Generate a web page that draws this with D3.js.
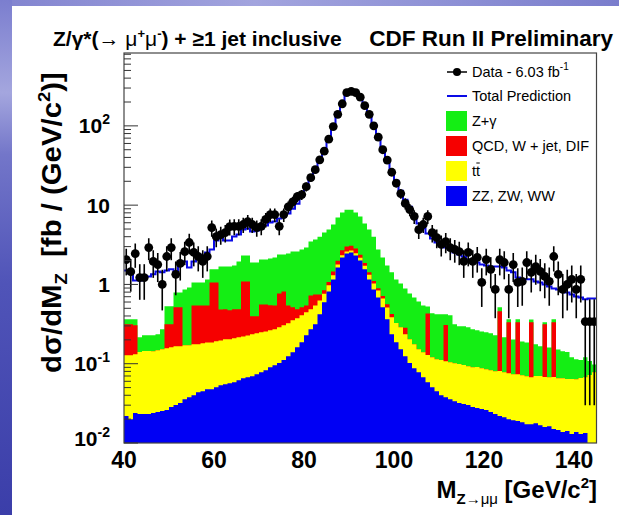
<!DOCTYPE html>
<html><head><meta charset="utf-8">
<script src="https://cdn.jsdelivr.net/npm/d3@7"></script>
<style>body{margin:0;background:#fff}svg{display:block}text{font-family:"Liberation Sans",Arial,Helvetica,sans-serif}</style>
</head><body>
<svg id="chart" width="619" height="515"></svg>
<script>
// ---- data (1 GeV bins from 40 to 145 GeV/c^2) ----
const binLowEdges = d3.range(40, 145, 1);
const xTicks = [40, 60, 80, 100, 120, 140];
const yTicks = [0.01, 0.1, 1, 10, 100];
const yTickLabels = [["10","-2"],["10","-1"],["1",""],["10",""],["10","2"]];

const dataValues = [2.06,1.45,2.45,1.22,1.22,2.92,1.95,1.78,1.00,2.25,
 2.92,1.34,1.84,2.60,3.38,2.53,2.25,1.95,2.25,5.21,
 4.01,4.25,4.50,5.37,5.40,5.40,5.70,6.20,5.70,5.20,
 5.40,6.60,7.60,7.60,5.40,7.60,9.50,11.0,12.8,13.6,
 17.1,22.2,28.0,37.3,48,68,98,140,190,262,
 272,262,230,180,140,100,72,50,37,26,
 19,14,10.5,8.8,7.2,4.9,5.7,7.2,4.5,3.9,
 3.2,3.47,2.92,2.76,2.60,1.95,2.53,1.95,2.19,1.06,
 2.06,1.55,0.865,2.06,1.89,0.865,1.78,1.06,1.09,1.89,
 1.42,1.68,1.46,1.26,1.09,2.25,1.34,0.865,1.00,1.16,
 0.865,1.16,0.34,0.34,0.34];
const dataErrors = [0.76,0.64,0.83,0.58,0.58,0.90,0.74,0.71,0.53,0.79,
 0.90,0.61,0.72,0.85,0.97,0.84,0.79,0.74,0.79,1.21,
 1.06,1.09,1.12,1.23,1.23,1.23,1.26,1.32,1.26,1.21,
 1.23,1.36,1.46,1.46,1.23,1.46,1.63,1.75,1.89,1.95,
 2.19,2.49,2.80,3.23,3.67,4.36,5.24,6.26,7.29,8.57,
 8.73,8.57,8.02,7.10,6.26,5.29,4.49,3.74,3.22,2.70,
 2.31,1.98,1.71,1.57,1.42,1.17,1.26,1.42,1.12,1.04,
 0.95,0.99,0.90,0.88,0.85,0.74,0.84,0.74,0.78,0.54,
 0.76,0.66,0.49,0.76,0.73,0.49,0.71,0.54,0.55,0.73,
 0.63,0.69,0.64,0.59,0.55,0.79,0.61,0.49,0.53,0.57,
 0.49,0.57,0.31,0.31,0.31];
const totalPrediction = [1.50,1.37,1.12,1.12,1.19,1.26,1.34,1.46,1.42,1.50,
 1.55,1.46,1.95,1.95,1.64,1.95,2.38,2.32,2.53,2.76,
 3.58,3.90,3.58,3.58,4.01,4.25,4.92,5.06,4.64,4.78,
 5.06,5.52,6.03,6.20,6.77,7.17,7.83,9.04,10.4,12.8,
 17.1,21.5,28.0,36.2,47.1,66.7,100,133,183,258,
 282,266,237,188,145,106,72.8,49.9,36.2,26.4,
 20.3,15.2,11.7,9.58,7.38,5.85,5.06,4.38,3.79,3.38,
 3.10,2.92,2.76,2.53,2.38,2.25,2.06,1.95,1.89,1.78,
 1.73,1.64,1.68,1.68,1.64,1.50,1.42,1.22,1.16,1.16,
 1.16,1.09,1.06,1.00,0.944,0.891,0.865,0.816,0.793,0.748,
 0.706,0.686,0.648,0.667,0.667];
// stacked components (bottom to top)
const dibosonZZWW = [0.0219,0.0200,0.0239,0.0232,0.0232,0.0232,0.0239,0.0246,0.0253,0.0260,
 0.0284,0.0301,0.0319,0.0357,0.0378,0.0401,0.0438,0.0451,0.0478,0.0478,
 0.0506,0.0536,0.0552,0.0568,0.0585,0.0620,0.0657,0.0676,0.0696,0.0738,
 0.0782,0.0828,0.0904,0.0958,0.102,0.111,0.124,0.140,0.161,0.186,
 0.228,0.272,0.314,0.420,0.594,0.816,1.156,1.64,2.19,2.45,
 2.53,2.32,2.00,1.55,1.156,0.865,0.686,0.514,0.363,0.235,
 0.186,0.152,0.124,0.102,0.0878,0.0782,0.0676,0.0585,0.0506,0.0451,
 0.0401,0.0378,0.0357,0.0337,0.0319,0.0310,0.0301,0.0284,0.0276,0.0268,
 0.0260,0.0246,0.0232,0.0219,0.0212,0.0200,0.0194,0.0189,0.0183,0.0173,
 0.0173,0.0178,0.0168,0.0159,0.0163,0.0150,0.0146,0.0138,0.0142,0.0130,
 0.0138,0.0130,0.0134,0.0090,0.0080];
const ttbar = [0.106,0.108,0.108,0.117,0.121,0.121,0.120,0.123,0.127,0.131,
 0.133,0.136,0.134,0.135,0.133,0.136,0.132,0.136,0.138,0.138,
 0.141,0.143,0.148,0.146,0.151,0.153,0.155,0.160,0.165,0.168,
 0.171,0.173,0.174,0.176,0.186,0.194,0.199,0.213,0.213,0.222,
 0.217,0.213,0.230,0.209,0.17,0.16,0.15,0.15,0.15,0.15,
 0.15,0.16,0.17,0.17,0.17,0.16,0.15,0.15,0.15,0.15,
 0.14,0.136,0.111,0.101,0.088,0.074,0.072,0.070,0.070,0.069,
 0.071,0.070,0.069,0.068,0.067,0.065,0.063,0.062,0.063,0.061,
 0.059,0.058,0.057,0.059,0.057,0.056,0.054,0.055,0.053,0.052,
 0.050,0.052,0.053,0.052,0.051,0.053,0.051,0.052,0.050,0.051,
 0.050,0.053,0.054,0.063,0.070];
const qcdWjetDif = [0.186,0.186,0.173,0,0,0,0,0,0,0.157,
 0.153,0.348,0.348,0,0,0.368,0.368,0.363,0.358,0.874,
 0.868,0.288,0.282,0.268,0.276,0.270,0.869,0.862,0.161,0.154,
 0.311,0.304,0.280,0.272,0.482,0.511,0.221,0.161,0.111,0.106,
 0.099,0.242,0.204,0.119,0.08,0.10,0.15,0.20,0.35,0.40,
 0.40,0.35,0.20,0.15,0.10,0.08,0.06,0.05,0.05,0.04,
 0,0,0.05,0,0,0,0,0.30,0,0,
 0,0.20,0,0,0,0,0,0,0,0,
 0,0,0,0.377,0,0.257,0,0.259,0,0,
 0.265,0,0,0.246,0,0.265,0,0,0,0,
 0,0,0,0,0];
const zGamma = [0.049,0.049,0.058,0.075,0.084,0.084,0.084,0.087,0.120,0.215,
 0.215,0.279,0.279,0.694,0.746,0.516,0.516,0.516,0.612,0.49,
 0.49,1.195,1.195,1.209,1.245,1.465,1.23,1.23,1.494,1.494,
 1.50,1.50,1.576,1.646,1.61,1.564,1.906,2.086,2.115,2.246,
 2.376,2.743,2.93,3.26,3.67,3.84,4.23,4.98,5.36,5.78,
 5.70,5.22,4.80,3.98,3.49,2.90,1.86,1.48,1.17,0.995,
 0.83,0.742,0.606,0.567,0.51,0.459,0.404,0.10,0.311,0.306,
 0.309,0.112,0.303,0.212,0.197,0.200,0.195,0.182,0.174,0.168,
 0.164,0.159,0.148,0.057,0.137,0.030,0.129,0.030,0.120,0.116,
 0.030,0.106,0.096,0.019,0.093,0.030,0.086,0.078,0.076,0.057,
 0.050,0.045,0.053,0.036,0.020];

const components = [
  {name:"ZZ, ZW, WW", values:dibosonZZWW, color:"#0000f4"},
  {name:"tt", values:ttbar, color:"#ffff00"},
  {name:"QCD, W + jet, DIF", values:qcdWjetDif, color:"#f60000"},
  {name:"Z+\u03b3", values:zGamma, color:"#14ee14"}
];

// ---- layout ----
const svg = d3.select("#chart");
const W = 619, H = 515;
const plot = {left:124, right:596.5, top:53, bottom:443};
const x = d3.scaleLinear().domain([40,145]).range([plot.left, plot.right]);
const y = d3.scaleLog().domain([0.01, 830]).range([plot.bottom, plot.top]);

// slide background
const defs = svg.append("defs");
const lg = defs.append("linearGradient").attr("id","bgv").attr("x1",0).attr("y1",0).attr("x2",0).attr("y2",1);
[["0%","#7b7ecf"],["18%","#a4a6de"],["30%","#7376c9"],["55%","#5054b8"],["100%","#3b3ea9"]].forEach(s=>lg.append("stop").attr("offset",s[0]).attr("stop-color",s[1]));
const lh = defs.append("linearGradient").attr("id","bgh").attr("x1",0).attr("y1",0).attr("x2",1).attr("y2",0);
[["0%","#8385d0"],["40%","#a2a4de"],["70%","#8f92d6"],["100%","#7a7dcc"]].forEach(s=>lh.append("stop").attr("offset",s[0]).attr("stop-color",s[1]));
svg.append("rect").attr("x",0).attr("y",0).attr("width",W).attr("height",H).attr("fill","url(#bgv)");
svg.append("rect").attr("x",12).attr("y",0).attr("width",W-12).attr("height",6).attr("fill","url(#bgh)");
svg.append("rect").attr("x",12).attr("y",6).attr("width",W-12).attr("height",H-6).attr("fill","#ffffff");

defs.append("clipPath").attr("id","plotclip").append("rect")
  .attr("x",plot.left).attr("y",plot.top).attr("width",plot.right-plot.left).attr("height",plot.bottom-plot.top);

const g = svg.append("g").attr("clip-path","url(#plotclip)");

// stacked histograms
let cum = binLowEdges.map(()=>0);
const levels = components.map(c => { cum = cum.map((v,i)=>v + c.values[i]); return cum.slice(); });
const area = d3.area().curve(d3.curveStepAfter)
  .x(d=>x(d.x)).y0(y(0.01)+2).y1(d=>y(Math.max(d.v,0.001)));
for (let k = components.length-1; k >= 0; k--) {
  const pts = binLowEdges.map((e,i)=>({x:e, v:levels[k][i]}));
  pts.push({x:145, v:levels[k][levels[k].length-1]});
  g.append("path").attr("d", area(pts)).attr("fill", components[k].color);
}

// total prediction
const tp = binLowEdges.map((e,i)=>({x:e, v:totalPrediction[i]}));
tp.push({x:145, v:totalPrediction[totalPrediction.length-1]});
g.append("path").attr("d", d3.line().curve(d3.curveStepAfter).x(d=>x(d.x)).y(d=>y(d.v))(tp))
  .attr("fill","none").attr("stroke","#0a0ae6").attr("stroke-width",2);

// data points
const pts = g.append("g");
binLowEdges.forEach((e,i)=>{
  const v = dataValues[i], er = dataErrors[i], cx = x(e+0.5);
  const lo = Math.max(v-er, 0.005);
  pts.append("line").attr("x1",cx).attr("x2",cx).attr("y1",y(lo)).attr("y2",y(v+er))
    .attr("stroke","#000").attr("stroke-width",1.6);
  pts.append("circle").attr("cx",cx).attr("cy",y(v)).attr("r",4.4).attr("fill","#000");
});

// frame
svg.append("rect").attr("x",plot.left).attr("y",plot.top).attr("width",plot.right-plot.left).attr("height",plot.bottom-plot.top)
  .attr("fill","none").attr("stroke","#444").attr("stroke-width",1.2);

// y ticks (inward)
const yt = svg.append("g");
for (let d = -2; d <= 2; d++) {
  for (let m = 1; m <= 9; m++) {
    const v = m * Math.pow(10, d);
    if (v < 0.01 || v > 830) continue;
    const len = m === 1 ? 14 : 7;
    yt.append("line").attr("x1",plot.left).attr("x2",plot.left+len).attr("y1",y(v)).attr("y2",y(v))
      .attr("stroke","#333").attr("stroke-width",1);
  }
}
yTicks.forEach((v,i)=>{
  const [base, exp] = yTickLabels[i];
  const t = svg.append("text").attr("y", y(v) + (i===0 ? 3 : 7.5)).attr("font-size",21).attr("font-weight","bold")
    .attr("text-anchor","end").attr("fill","#000");
  t.append("tspan").text(base);
  if (exp) t.append("tspan").attr("font-size",14).attr("dy",-9).text(exp);
  t.attr("x", 110);
});

// x tick labels
xTicks.forEach(v=>{
  svg.append("text").attr("x",x(v)).attr("y",468).attr("text-anchor","middle")
    .attr("font-size",23).attr("font-weight","bold").text(v);
});

// axis titles
const xt = svg.append("text").attr("x",597).attr("y",498).attr("text-anchor","end")
  .attr("font-size",24).attr("font-weight","bold");
xt.append("tspan").text("M");
xt.append("tspan").attr("font-size",15).attr("dy",6).text("Z");
xt.append("tspan").attr("font-size",15).attr("font-weight","normal").text("\u2192\u03bc\u03bc");
xt.append("tspan").attr("dy",-6).text(" [GeV/c");
xt.append("tspan").attr("font-size",15).attr("dy",-10).text("2");
xt.append("tspan").attr("dy",10).text("]");

// y title: starts at y=373 and ends at y=72
const ytg = svg.append("g").attr("transform","translate(61,373) rotate(-90)");
const ytl = ytg.append("text").attr("x",0).attr("y",0).attr("text-anchor","start")
  .attr("font-size",27).attr("font-weight","bold");
ytl.append("tspan").text("d\u03c3/dM");
ytl.append("tspan").attr("font-size",17).attr("dy",6).text("Z");
ytl.append("tspan").attr("dy",-6).attr("xml:space","preserve").text("\u00a0 [fb / (GeV/c");
ytl.append("tspan").attr("font-size",17).attr("dy",-11).text("2");
ytl.append("tspan").attr("dy",11).text(")]");
const natLen = ytl.node().getComputedTextLength();
ytl.attr("transform", `scale(${301/natLen},1)`);

// header
const h1 = svg.append("text").attr("x",53).attr("y",46).attr("font-size",21).attr("font-weight","bold");
h1.append("tspan").text("Z/\u03b3*(");
h1.append("tspan").attr("font-weight","normal").text("\u2192 \u03bc");
h1.append("tspan").attr("font-size",13).attr("dy",-8).text("+");
h1.append("tspan").attr("font-weight","normal").attr("dy",8).text("\u03bc");
h1.append("tspan").attr("font-size",13).attr("dy",-8).text("-");
h1.append("tspan").attr("dy",8).text(") + \u22651 jet inclusive");
svg.append("text").attr("x",613).attr("y",46).attr("text-anchor","end").attr("font-size",22.5)
  .attr("font-weight","bold").text("CDF Run II Preliminary");

// legend
const leg = svg.append("g");
const rowY = [72, 96, 121, 146, 171, 196];
const lx = 446, tx = 472;
leg.append("line").attr("x1",lx+1).attr("x2",lx+21).attr("y1",rowY[0]).attr("y2",rowY[0]).attr("stroke","#000").attr("stroke-width",1.5);
leg.append("circle").attr("cx",lx+11).attr("cy",rowY[0]).attr("r",4).attr("fill","#000");
const t0 = leg.append("text").attr("x",tx).attr("y",rowY[0]+5).attr("font-size",14.5);
t0.append("tspan").text("Data - 6.03 fb");
t0.append("tspan").attr("font-size",10).attr("dy",-7).text("-1");
leg.append("line").attr("x1",lx+1).attr("x2",lx+21).attr("y1",rowY[1]).attr("y2",rowY[1]).attr("stroke","#0a0ae6").attr("stroke-width",2);
leg.append("text").attr("x",tx).attr("y",rowY[1]+5).attr("font-size",14.5).text("Total Prediction");
const legOrder = [3,2,1,0];
legOrder.forEach((k,j)=>{
  const cy = rowY[2+j];
  leg.append("rect").attr("x",lx).attr("y",cy-10).attr("width",21).attr("height",20).attr("fill",components[k].color);
  const t = leg.append("text").attr("x",tx).attr("y",cy+5).attr("font-size",14.5);
  if (k === 1) {
    t.text("tt");
    const node = t.node();
    const w1 = node.getSubStringLength(0,1), w2 = node.getSubStringLength(1,1);
    leg.append("line").attr("x1",tx+w1+0.3).attr("x2",tx+w1+w2-0.3).attr("y1",cy-8).attr("y2",cy-8)
      .attr("stroke","#000").attr("stroke-width",1);
  } else {
    t.text(components[k].name);
  }
});
</script>
</body></html>
